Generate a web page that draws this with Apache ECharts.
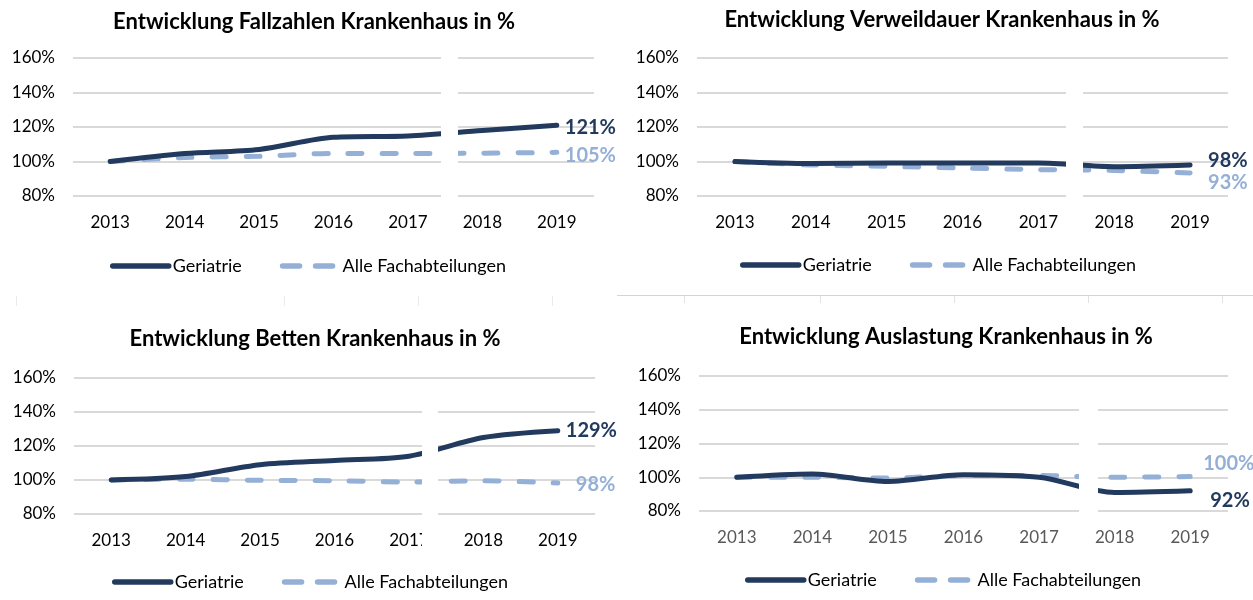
<!DOCTYPE html>
<html>
<head>
<meta charset="utf-8">
<script src="https://cdn.jsdelivr.net/npm/echarts@6/dist/echarts.min.js"></script>
<style>
html,body{margin:0;padding:0;background:#fff;}
#c{width:1253px;height:600px;}
</style>
</head>
<body>
<div id="c"></div>
<script>
// ---- data ----
var years = ['2013','2014','2015','2016','2017','2018','2019'];
var yTicks = [80, 100, 120, 140, 160];
var seriesNames = ['Geriatrie', 'Alle Fachabteilungen'];
var titles = [
  'Entwicklung Fallzahlen Krankenhaus in %',
  'Entwicklung Verweildauer Krankenhaus in %',
  'Entwicklung Betten Krankenhaus in %',
  'Entwicklung Auslastung Krankenhaus in %'
];
var fallzahlenGeriatrie = [100, 104.6, 107, 114, 114.8, 118, 121];
var fallzahlenAlle      = [100, 102.3, 103, 104.7, 104.6, 104.8, 105.3];
var verweildauerGeriatrie = [100, 98.8, 99.1, 99.2, 99.2, 97, 98];
var verweildauerAlle      = [100, 98, 97.2, 96.2, 95.3, 94.8, 93.4];
var bettenGeriatrie = [100, 102, 109, 111.5, 114, 125, 129];
var bettenAlle      = [100, 100.5, 99.8, 99.6, 98.8, 99.6, 98.2];
var auslastungGeriatrie = [100, 102, 97.5, 101.5, 100, 91, 92];
var auslastungAlle      = [100, 100, 99.5, 101, 101, 100, 100.4];

var panelData = [
  [fallzahlenGeriatrie, fallzahlenAlle],
  [verweildauerGeriatrie, verweildauerAlle],
  [bettenGeriatrie, bettenAlle],
  [auslastungGeriatrie, auslastungAlle]
];

// ---- layout / style ----
var FONT = 'Lato';
var C_GER = '#223A5E';
var C_ALL = '#95B0D6';
var grids = [
  {left: 73,  top: 58,  width: 521, height: 138},
  {left: 697, top: 58,  width: 531, height: 138},
  {left: 74,  top: 378, width: 521, height: 136},
  {left: 699, top: 376, width: 529, height: 135}
];
var titlePos = [
  {x: 309, y: 6}, {x: 937, y: 4}, {x: 310, y: 323}, {x: 941, y: 321}
];
var legendPos = [
  {x: 110, y: 257}, {x: 740, y: 256}, {x: 112, y: 573}, {x: 745, y: 571}
];
var xLabelColor = ['#000', '#000', '#000', '#595959'];
var endOffsets = [
  [[8, 2], [8, 3]],
  [[18, -4], [18, 10]],
  [[8, 0], [18, 1]],
  [[20, 10], [13, -13]]
];
var stripes = [
  {x: 441, y: 45, w: 17, h: 160},
  {x: 1066, y: 68, w: 17, h: 137},
  {x: 422, y: 390, w: 16, h: 162},
  {x: 1079, y: 388, w: 19, h: 135}
];

var option = {
  backgroundColor: '#fff',
  animation: false,
  title: [], legend: [], grid: [], xAxis: [], yAxis: [], series: [], graphic: []
};

for (var p = 0; p < 4; p++) {
  option.title.push({
    text: titles[p], left: titlePos[p].x, top: titlePos[p].y, textAlign: 'center',
    textStyle: {fontFamily: FONT, fontWeight: 'bold', fontSize: 22, color: '#000'}
  });
  option.legend.push({
    data: [
      {name: seriesNames[0], lineStyle: {width: 5.5, type: 'solid', cap: 'round'}},
      {name: seriesNames[1], lineStyle: {width: 5.5, type: [17, 16], cap: 'round'}}
    ],
    left: legendPos[p].x, top: legendPos[p].y, padding: 0,
    itemWidth: 56, itemHeight: 14, itemGap: 38,
    itemStyle: {opacity: 0},
    textStyle: {fontFamily: FONT, fontSize: 18, color: '#000', padding: [0, 0, 0, -1]}
  });
  option.grid.push(grids[p]);
  option.xAxis.push({
    type: 'category', gridIndex: p, data: years, boundaryGap: true,
    axisLine: {show: false}, axisTick: {show: false},
    axisLabel: {fontFamily: FONT, fontSize: 17, color: xLabelColor[p], margin: 18}
  });
  option.yAxis.push({
    type: 'value', gridIndex: p, min: yTicks[0], max: yTicks[yTicks.length - 1], interval: 20,
    axisLine: {show: false}, axisTick: {show: false},
    axisLabel: {fontFamily: FONT, fontSize: 17, color: '#000', margin: 18, formatter: '{value}%'},
    splitLine: {lineStyle: {color: '#D9D9D9', width: 2}}
  });
  for (var s = 0; s < 2; s++) {
    var col = s === 0 ? C_GER : C_ALL;
    option.series.push({
      name: seriesNames[s], type: 'line', xAxisIndex: p, yAxisIndex: p,
      data: panelData[p][s], smooth: 0.3, symbol: 'none', z: s === 0 ? 3 : 2,
      lineStyle: s === 0
        ? {color: col, width: 5, cap: 'round'}
        : {color: col, width: 5, type: [14, 20], cap: 'round'},
      itemStyle: {color: col},
      endLabel: {
        show: true, offset: endOffsets[p][s], distance: 0,
        fontFamily: FONT, fontWeight: 'bold', fontSize: 20, color: col,
        formatter: function (prm) { return Math.round(prm.value) + '%'; }
      }
    });
  }
  option.graphic.push({
    type: 'rect', z: 100, silent: true,
    shape: {x: stripes[p].x, y: stripes[p].y, width: stripes[p].w, height: stripes[p].h},
    style: {fill: '#fff'}
  });
}

// faint separator artifacts
option.graphic.push({type: 'line', z: 50, silent: true,
  shape: {x1: 617, y1: 295.5, x2: 1253, y2: 295.5}, style: {stroke: '#D4D4D4', lineWidth: 1}});
[684, 820, 954, 1088, 1222].forEach(function (x) {
  option.graphic.push({type: 'line', z: 50, silent: true,
    shape: {x1: x + 0.5, y1: 296, x2: x + 0.5, y2: 303}, style: {stroke: '#E2E2E2', lineWidth: 1}});
});
[16, 284, 418, 552].forEach(function (x) {
  option.graphic.push({type: 'line', z: 50, silent: true,
    shape: {x1: x + 0.5, y1: 296, x2: x + 0.5, y2: 306}, style: {stroke: '#EBEBEB', lineWidth: 1}});
});

var chart = echarts.init(document.getElementById('c'));
chart.setOption(option);
</script>
</body>
</html>
